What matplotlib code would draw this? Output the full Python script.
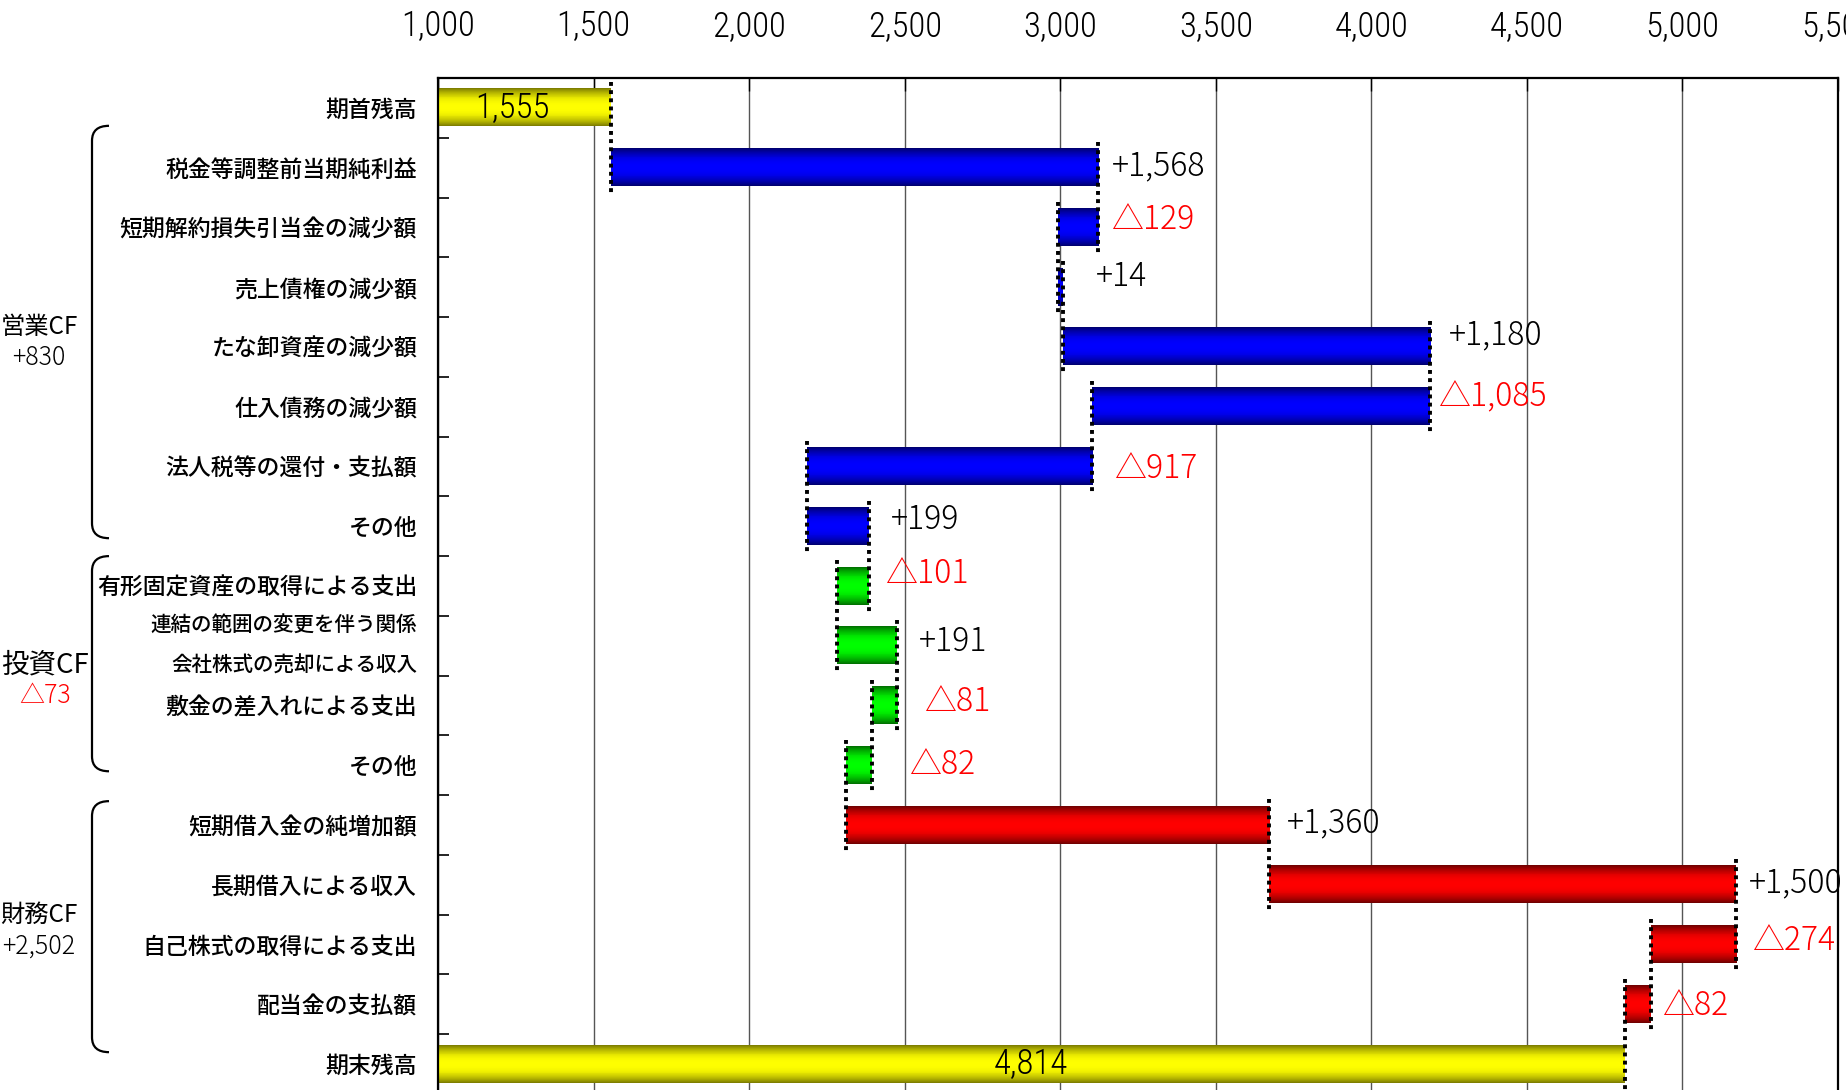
import numpy as np
import matplotlib
matplotlib.use("Agg")
import matplotlib.pyplot as plt
from matplotlib.path import Path
from matplotlib.patches import PathPatch
from matplotlib.transforms import blended_transform_factory

JP = ["Noto Sans CJK JP", "DejaVu Sans"]
NARROW = ["Noto Sans ExtraCondensed", "Liberation Sans Narrow",
          "Roboto Condensed", "Noto Sans Condensed", "Liberation Sans"]

# --- data (百万円) ---
CATEGORIES = [
    "期首残高",
    "税金等調整前当期純利益",
    "短期解約損失引当金の減少額",
    "売上債権の減少額",
    "たな卸資産の減少額",
    "仕入債務の減少額",
    "法人税等の還付・支払額",
    "その他",
    "有形固定資産の取得による支出",
    "連結の範囲の変更を伴う関係\n会社株式の売却による収入",
    "敷金の差入れによる支出",
    "その他",
    "短期借入金の純増加額",
    "長期借入による収入",
    "自己株式の取得による支出",
    "配当金の支払額",
    "期末残高",
]
OPENING = 1555
CLOSING = 4814
CHANGES = [1568, -129, 14, 1180, -1085, -917, 199,
           -101, 191, -81, -82,
           1360, 1500, -274, -82]
GROUPS = ["営業CF", "投資CF", "財務CF"]
GROUP_SIZES = [7, 4, 4]
GROUP_TOTALS = [830, -73, 2502]
X_TICKS = [1000, 1500, 2000, 2500, 3000, 3500, 4000, 4500, 5000, 5500]

# --- layout ---
GROUP_RGB = [(0.0, 0.0, 1.0), (0.0, 1.0, 0.0), (1.0, 0.0, 0.0)]
TOTAL_RGB = (1.0, 1.0, 0.0)
BAR_H = 0.62
# label nudges (px): gap from bar end, lift above row centre
LABEL_GAP = [13, 13, 33, 19, 8, 22, 22, 16, 22, 27, 37, 18, 13, 16, 11]
LABEL_LIFT = [2, 8, 10, 12, 10, -2, 6, 12, 4, 4, 1, 2, 2, 4, -1]
BRACKETS = [(0.3, 7.2), (7.5, 11.1), (11.6, 15.8)]
GROUP_X = [39, 45, 39]
GROUP_Y = [3.66, 9.32, 13.51]

W_PX, H_PX = 1846, 1090
fig = plt.figure(figsize=(W_PX / 100, H_PX / 100), dpi=100)
ax = fig.add_axes([438 / W_PX, 1 - 1094 / H_PX, 1400 / W_PX, 1016 / H_PX])

n = len(CATEGORIES)
rows = np.arange(n)
xmin, xmax = X_TICKS[0], X_TICKS[-1]


def fmt(v):
    return f"+{v:,}" if v > 0 else f"△{-v:,}"


def shade(patch, rgb, dark=0.5):
    """Fill a bar with a vertical dark-bright-dark gradient."""
    x0, y0 = patch.get_x(), patch.get_y()
    w, h = patch.get_width(), patch.get_height()
    t = np.linspace(0, 1, 40)
    f = 1 - (1 - dark) * np.abs(2 * t - 1) ** 2.2
    img = np.asarray(rgb)[None, None, :] * f[:, None, None]
    ax.imshow(img, extent=(x0, x0 + w, y0 + h, y0), aspect="auto",
              interpolation="nearest", zorder=2.1)


# waterfall levels
levels = OPENING + np.concatenate([[0], np.cumsum(CHANGES)])
lefts = np.minimum(levels[:-1], levels[1:])
widths = np.abs(CHANGES)
group_idx = np.repeat(np.arange(len(GROUPS)), GROUP_SIZES)

tot = ax.barh([0, n - 1], [OPENING, CLOSING], height=BAR_H, color=TOTAL_RGB,
              linewidth=0, zorder=2)
chg = ax.barh(rows[1:-1], widths, left=lefts, height=BAR_H,
              color=[GROUP_RGB[g] for g in group_idx], linewidth=0, zorder=2)
for p in tot:
    shade(p, TOTAL_RGB)
for p, g in zip(chg, group_idx):
    shade(p, GROUP_RGB[g], dark=0.45)

# dotted connectors between consecutive bars
half = BAR_H / 2 + 0.12
ax.vlines(levels, rows[:-1] - half, rows[1:] + half, colors="black",
          linewidth=2.8, linestyles=(0, (1, 1.1)), zorder=4)

# value labels
for k, v in enumerate(CHANGES):
    ax.annotate(fmt(v), xy=(max(levels[k], levels[k + 1]), rows[k + 1]),
                xytext=(LABEL_GAP[k] * 0.72, LABEL_LIFT[k] * 0.72),
                textcoords="offset points", ha="left", va="center",
                fontsize=23, fontfamily=JP, fontweight="light",
                color="red" if v < 0 else "black", zorder=5)

# opening / closing balances, centred on the visible part of the bar
for row, v, dx in [(0, OPENING, -12), (n - 1, CLOSING, 0)]:
    ax.annotate(f"{v:,}", xy=((xmin + v) / 2, row), xytext=(dx * 0.72, 0),
                textcoords="offset points", ha="center", va="center",
                fontsize=25, fontfamily=NARROW, fontstretch="condensed",
                fontweight="light", color="black", zorder=5)

# axes styling
ax.set_xlim(xmin, xmax)
ax.set_ylim(n - 0.5, -0.5)
ax.xaxis.tick_top()
ax.set_xticks(X_TICKS, [f"{t:,}" for t in X_TICKS], fontsize=25,
              fontfamily=NARROW, fontstretch="condensed", fontweight="light",
              color="black")
ax.tick_params(axis="x", direction="in", length=9, width=1, pad=25.5)
ax.grid(axis="x", color="#555555", linewidth=1.0)
ax.set_axisbelow(True)

ax.set_yticks(rows, CATEGORIES, fontsize=16.5, fontfamily=JP,
              fontweight="medium", color="black")
ax.set_yticks(rows[:-1] + 0.5, minor=True)
ax.tick_params(axis="y", which="major", length=0, pad=15)
ax.tick_params(axis="y", which="minor", direction="in", length=8, width=1.2)
two_line = ax.get_yticklabels()[9]
two_line.set_fontsize(14.8)
two_line.set_linespacing(2.0)
two_line.set_verticalalignment("center")

ax.spines["bottom"].set_visible(False)
for s in ("left", "top", "right"):
    ax.spines[s].set_linewidth(1.6)

# group brackets and subtotals
trans = blended_transform_factory(fig.transFigure, ax.transData)
x_line, x_hook, r = 92 / W_PX, 109 / W_PX, 0.25
for (y0, y1), gx, gy, name, total in zip(BRACKETS, GROUP_X, GROUP_Y,
                                         GROUPS, GROUP_TOTALS):
    verts = [(x_hook, y0), (x_line, y0), (x_line, y0 + r),
             (x_line, y1 - r), (x_line, y1), (x_hook, y1)]
    codes = [Path.MOVETO, Path.CURVE3, Path.CURVE3,
             Path.LINETO, Path.CURVE3, Path.CURVE3]
    ax.add_patch(PathPatch(Path(verts, codes), transform=trans, fill=False,
                           linewidth=1.6, edgecolor="black", clip_on=False))
    ax.text(gx / W_PX, gy, name, transform=trans, ha="center", va="center",
            fontsize=19.8 if name == "投資CF" else 17.5, fontfamily=JP,
            color="black")
    ax.text(gx / W_PX, gy + 0.52, fmt(total), transform=trans, ha="center",
            va="center", fontsize=18, fontfamily=JP, fontweight="light",
            color="red" if total < 0 else "black")

fig.savefig("out.png", dpi=100)
